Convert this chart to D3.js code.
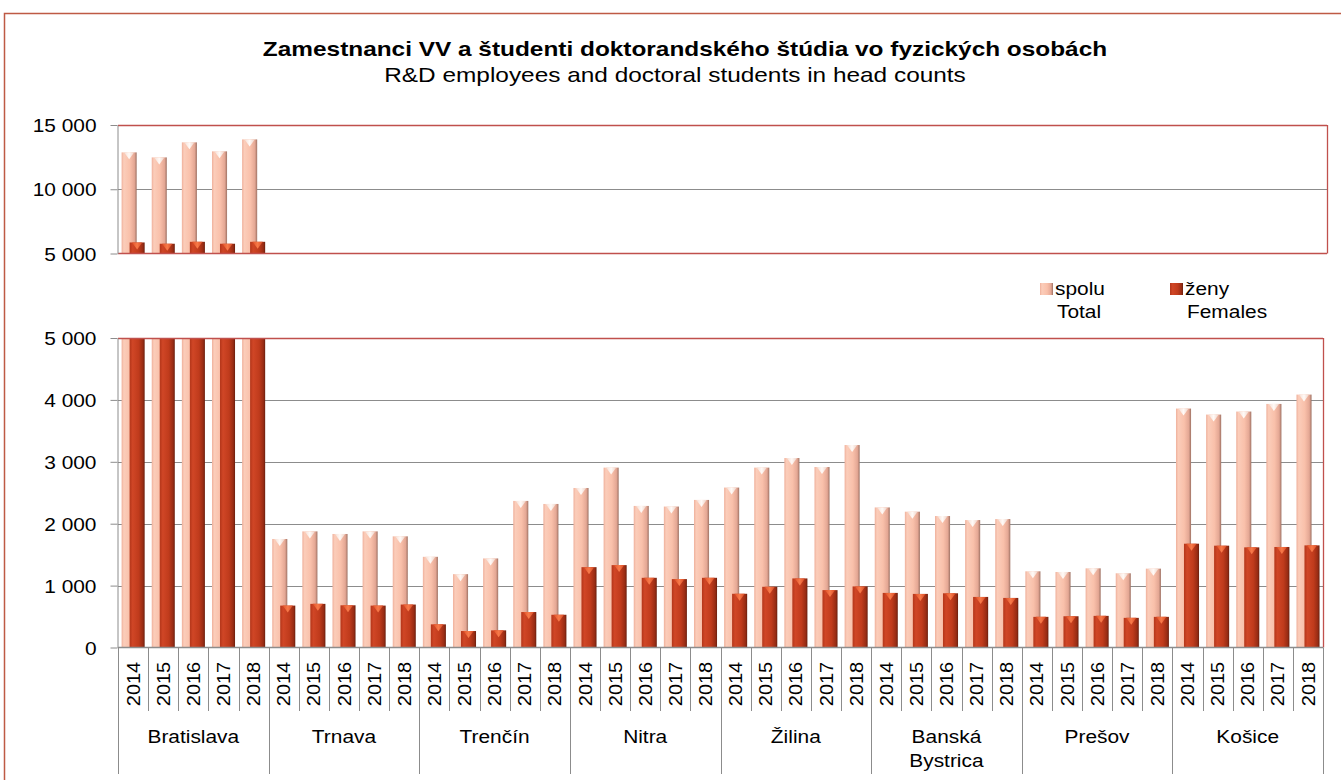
<!DOCTYPE html>
<html>
<head>
<meta charset="utf-8">
<script src="https://cdn.jsdelivr.net/npm/d3@7"></script>
<style>
  html, body { margin: 0; padding: 0; background: #fff; }
  svg { display: block; font-family: "Liberation Sans", Arial, sans-serif; }
</style>
</head>
<body>
<div id="chart"></div>
<script>
const regions = ["Bratislava", "Trnava", "Trenčín", "Nitra", "Žilina", "Banská Bystrica", "Prešov", "Košice"]
const years = ["2014", "2015", "2016", "2017", "2018"]

// spolu / Total, one row per region (2014..2018)
const totals = [
    [12870, 12480, 13650, 12950, 13880],
    [1753, 1876, 1834, 1876, 1796],
    [1465, 1185, 1439, 2368, 2319],
    [2577, 2906, 2287, 2277, 2384],
    [2584, 2906, 3061, 2916, 3271],
    [2263, 2194, 2124, 2059, 2075],
    [1231, 1220, 1279, 1199, 1274],
    [3860, 3763, 3812, 3935, 4086],
]
// ženy / Females
const females = [
    [5860, 5760, 5910, 5760, 5910],
    [677, 705, 682, 677, 694],
    [374, 266, 277, 573, 529],
    [1298, 1331, 1126, 1105, 1126],
    [868, 981, 1116, 927, 987],
    [882, 866, 876, 817, 801],
    [495, 505, 511, 479, 495],
    [1677, 1645, 1618, 1624, 1650],
]
const topTicks = [5000, 10000, 15000]
const bottomTicks = [0, 1000, 2000, 3000, 4000, 5000]

const CONFIG = {
    width: 1341,
    height: 780,
    left: 118,
    right: 1323,
    top: { y0: 125, y1: 253.5 },
    bottom: { y0: 338, y1: 647.5 },
    red: '#C0504D',
    grid: '#8C8C8C',
    sx: 1.13,
}

const rows = []
regions.forEach((r, i) => years.forEach((y, j) => {
    rows.push({ key: r + '|' + y, region: r, year: y, total: totals[i][j], females: females[i][j] })
}))

const svg = d3.select('#chart').append('svg')
    .attr('width', CONFIG.width)
    .attr('height', CONFIG.height)

const defs = svg.append('defs')

function hGradient(id, stops) {
    const g = defs.append('linearGradient').attr('id', id)
        .attr('x1', '0%').attr('x2', '100%').attr('y1', '0%').attr('y2', '0%')
    stops.forEach(s => g.append('stop').attr('offset', s[0]).attr('stop-color', s[1]))
}
hGradient('gTotal', [[0, '#EFB09B'], [0.15, '#FBCDBA'], [0.55, '#F9C0AA'], [0.85, '#E4A794'], [1, '#9E7264']])
hGradient('gFem', [[0, '#B3361A'], [0.2, '#D04626'], [0.6, '#C03B1C'], [0.88, '#982C14'], [1, '#6A1F0E']])
hGradient('gTotalTip', [[0, '#F5DDD3'], [0.5, '#FFFAF7'], [1, '#EFD2C6']])
hGradient('gFemTip', [[0, '#E05228'], [0.5, '#F77A4A'], [1, '#D84A24']])

// outer chart border
svg.append('rect')
    .attr('x', 4.5).attr('y', 13.5)
    .attr('width', CONFIG.width).attr('height', CONFIG.height)
    .attr('fill', 'none')
    .attr('stroke', '#BE5A44')
    .attr('stroke-width', 1.5)

// titles
function stretchedText(g, x, y, txt, opts) {
    return g.append('text')
        .attr('transform', `translate(${x},${y}) scale(${opts.sx || CONFIG.sx},1)`)
        .attr('text-anchor', opts.anchor || 'start')
        .attr('font-size', opts.size || 18.5)
        .attr('font-weight', opts.weight || 'normal')
        .attr('fill', '#000')
        .text(txt)
}
stretchedText(svg, 685, 56, 'Zamestnanci VV a študenti doktorandského štúdia vo fyzických osobách', { anchor: 'middle', size: 20, sx: 1.22, weight: 'bold' })
stretchedText(svg, 675, 82, 'R&D employees and doctoral students in head counts', { anchor: 'middle', size: 20, sx: 1.22 })

const x = d3.scaleBand()
    .domain(rows.map(d => d.key))
    .range([CONFIG.left, CONFIG.right])
    .padding(0)
const bw = x.bandwidth()

const yTop = d3.scaleLinear().domain([5000, 15000]).range([CONFIG.top.y1, CONFIG.top.y0])
const yBot = d3.scaleLinear().domain([0, 5000]).range([CONFIG.bottom.y1, CONFIG.bottom.y0])

const fmt = d3.formatLocale({ decimal: ',', thousands: ' ', grouping: [3], currency: ['', ''] }).format(',')

function panel(y, ticks, name, bottomColor, right) {
    const [d0, d1] = y.domain()
    const g = svg.append('g').classed(name, true)

    // gridlines
    g.append('g').selectAll('line')
        .data(ticks.filter(t => t > d0 && t < d1))
        .enter().append('line')
        .attr('x1', CONFIG.left).attr('x2', right)
        .attr('y1', d => Math.round(y(d)) + 0.5).attr('y2', d => Math.round(y(d)) + 0.5)
        .attr('stroke', CONFIG.grid)

    g.append('clipPath').attr('id', 'clip-' + name)
        .append('rect')
        .attr('x', CONFIG.left).attr('y', y(d1))
        .attr('width', right - CONFIG.left).attr('height', y(d0) - y(d1))

    const bars = g.append('g').attr('clip-path', `url(#clip-${name})`)

    function drawSeries(field, offset, fill, tip) {
        const vis = rows.filter(d => d[field] > d0)
        const s = bars.append('g')
        s.selectAll('rect')
            .data(vis, d => d.key)
            .enter().append('rect')
            .attr('x', d => x(d.key) + offset * bw)
            .attr('width', bw * 0.5)
            .attr('y', d => y(Math.min(d[field], d1 + 500)))
            .attr('height', d => y(d0) - y(Math.min(d[field], d1 + 500)))
            .attr('fill', `url(#${fill})`)
        s.selectAll('polygon')
            .data(vis.filter(d => d[field] < d1), d => d.key)
            .enter().append('polygon')
            .attr('points', d => {
                const x0 = x(d.key) + offset * bw
                const w = bw * 0.5
                const t = y(d[field])
                return [[x0 + w * 0.16, t], [x0 + w * 0.84, t], [x0 + w * 0.5, t + 7]].map(p => p.join(',')).join(' ')
            })
            .attr('fill', `url(#${tip})`)
    }
    drawSeries('total', 0.12, 'gTotal', 'gTotalTip')
    drawSeries('females', 0.385, 'gFem', 'gFemTip')

    // plot borders
    g.append('line')
        .attr('x1', CONFIG.left).attr('x2', right)
        .attr('y1', y(d1) + 0.5).attr('y2', y(d1) + 0.5)
        .attr('stroke', CONFIG.red).attr('stroke-width', 1.3)
    g.append('line')
        .attr('x1', right + 0.5).attr('x2', right + 0.5)
        .attr('y1', y(d1)).attr('y2', y(d0))
        .attr('stroke', CONFIG.red).attr('stroke-width', 1.3)
    g.append('line')
        .attr('x1', CONFIG.left).attr('x2', right)
        .attr('y1', y(d0)).attr('y2', y(d0))
        .attr('stroke', bottomColor).attr('stroke-width', 1.3)

    // y axis
    const axis = g.append('g')
        .attr('transform', `translate(${CONFIG.left - 0.5},0)`)
        .call(d3.axisLeft(y).tickValues(ticks).tickSize(7).tickSizeOuter(0).tickFormat(fmt))
    axis.select('.domain').attr('stroke', CONFIG.grid)
    axis.selectAll('.tick line').attr('stroke', CONFIG.grid)
    axis.selectAll('.tick text')
        .attr('x', null)
        .attr('dy', '0.36em')
        .attr('transform', `translate(-21,0) scale(${CONFIG.sx},1)`)
        .attr('font-family', '"Liberation Sans", Arial, sans-serif')
        .attr('font-size', 18.5)
        .attr('fill', '#000')
}

panel(yTop, topTicks, 'upper', CONFIG.red, CONFIG.right + 4)
panel(yBot, bottomTicks, 'lower', CONFIG.grid, CONFIG.right)

// x axis: years and regions
const xa = svg.append('g').classed('x-axis', true)
const base = CONFIG.bottom.y1
xa.selectAll('line.sep')
    .data(d3.range(rows.length + 1))
    .enter().append('line')
    .classed('sep', true)
    .attr('x1', i => Math.round(i < rows.length ? x(rows[i].key) : CONFIG.right) + 0.5)
    .attr('x2', i => Math.round(i < rows.length ? x(rows[i].key) : CONFIG.right) + 0.5)
    .attr('y1', base)
    .attr('y2', i => i % years.length === 0 ? 774 : 711)
    .attr('stroke', CONFIG.grid)

xa.selectAll('text.year')
    .data(rows)
    .enter().append('text')
    .classed('year', true)
    .attr('transform', d => `translate(${x(d.key) + bw / 2},684) rotate(-90) scale(1.08,1)`)
    .attr('text-anchor', 'middle')
    .attr('dy', '0.36em')
    .attr('font-size', 18.5)
    .text(d => d.year)

regions.forEach((r, i) => {
    const x0 = x(r + '|' + years[0])
    const x1 = x(r + '|' + years[years.length - 1]) + bw
    const parts = r.split(' ')
    parts.forEach((p, k) => {
        stretchedText(xa, (x0 + x1) / 2, 743 + k * 24, p, { anchor: 'middle' })
    })
})

// legend
const legendItems = [
    { fill: 'gTotal', lines: ['spolu', 'Total'], x: 1040 },
    { fill: 'gFem', lines: ['ženy', 'Females'], x: 1170 },
]
const legend = svg.selectAll('.legend')
    .data(legendItems)
    .enter().append('g')
    .classed('legend', true)
    .attr('transform', d => `translate(${d.x},283)`)
legend.append('rect')
    .attr('width', 13).attr('height', 12)
    .attr('fill', d => `url(#${d.fill})`)
legend.each(function (d) {
    const g = d3.select(this)
    stretchedText(g, 15, 12, d.lines[0], {})
    stretchedText(g, 17, 35, d.lines[1], {})
})
</script>
</body>
</html>
